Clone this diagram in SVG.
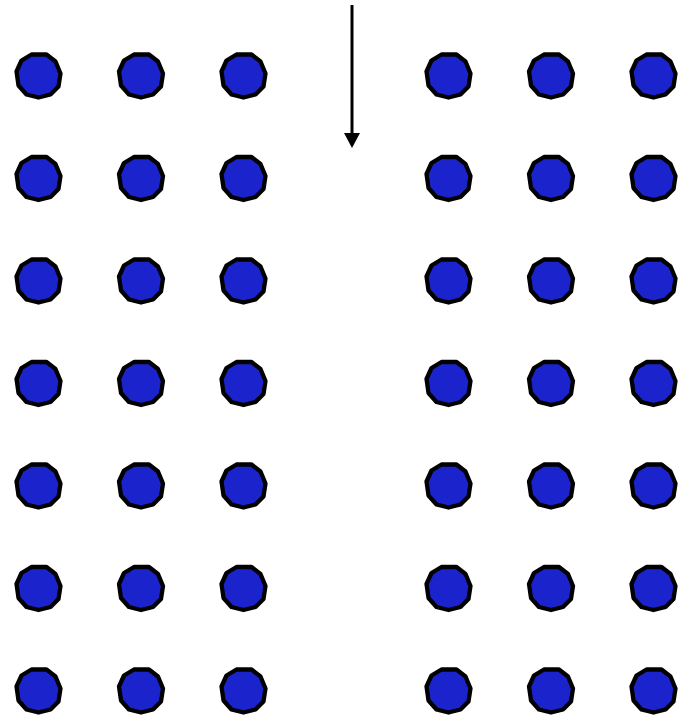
<svg xmlns="http://www.w3.org/2000/svg" width="681" height="716" viewBox="0 0 681 716">
<style>
.d{fill:#1b24cc;stroke:#000;stroke-width:4.3;stroke-linejoin:round}
</style>
<defs>
<marker id="ah" markerUnits="userSpaceOnUse" markerWidth="16" markerHeight="16" refX="0" refY="8" orient="auto" viewBox="0 0 16 16">
<path d="M0,0 L15,8 L0,16 Z" fill="#000"/>
</marker>
<polygon id="dot" class="d" points="-7,-21 8,-21 17,-14 22,-2 20,11 12,19 0,22 -12,19 -20,10 -22,-4 -17,-15"/>
</defs>
<rect width="681" height="716" fill="#fff"/>
<g id="connectors">
<line x1="352" y1="5" x2="352" y2="133" stroke="#000" stroke-width="3" marker-end="url(#ah)"/>
</g>
<g id="left">
<use href="#dot" x="38.5" y="75.5"/><use href="#dot" x="141" y="75.5"/><use href="#dot" x="243.5" y="75.5"/>
<use href="#dot" x="38.5" y="178"/><use href="#dot" x="141" y="178"/><use href="#dot" x="243.5" y="178"/>
<use href="#dot" x="38.5" y="280.5"/><use href="#dot" x="141" y="280.5"/><use href="#dot" x="243.5" y="280.5"/>
<use href="#dot" x="38.5" y="383"/><use href="#dot" x="141" y="383"/><use href="#dot" x="243.5" y="383"/>
<use href="#dot" x="38.5" y="485.5"/><use href="#dot" x="141" y="485.5"/><use href="#dot" x="243.5" y="485.5"/>
<use href="#dot" x="38.5" y="588"/><use href="#dot" x="141" y="588"/><use href="#dot" x="243.5" y="588"/>
<use href="#dot" x="38.5" y="690.5"/><use href="#dot" x="141" y="690.5"/><use href="#dot" x="243.5" y="690.5"/>
</g>
<g id="right">
<use href="#dot" x="448.5" y="75.5"/><use href="#dot" x="551" y="75.5"/><use href="#dot" x="653.5" y="75.5"/>
<use href="#dot" x="448.5" y="178"/><use href="#dot" x="551" y="178"/><use href="#dot" x="653.5" y="178"/>
<use href="#dot" x="448.5" y="280.5"/><use href="#dot" x="551" y="280.5"/><use href="#dot" x="653.5" y="280.5"/>
<use href="#dot" x="448.5" y="383"/><use href="#dot" x="551" y="383"/><use href="#dot" x="653.5" y="383"/>
<use href="#dot" x="448.5" y="485.5"/><use href="#dot" x="551" y="485.5"/><use href="#dot" x="653.5" y="485.5"/>
<use href="#dot" x="448.5" y="588"/><use href="#dot" x="551" y="588"/><use href="#dot" x="653.5" y="588"/>
<use href="#dot" x="448.5" y="690.5"/><use href="#dot" x="551" y="690.5"/><use href="#dot" x="653.5" y="690.5"/>
</g>
</svg>
